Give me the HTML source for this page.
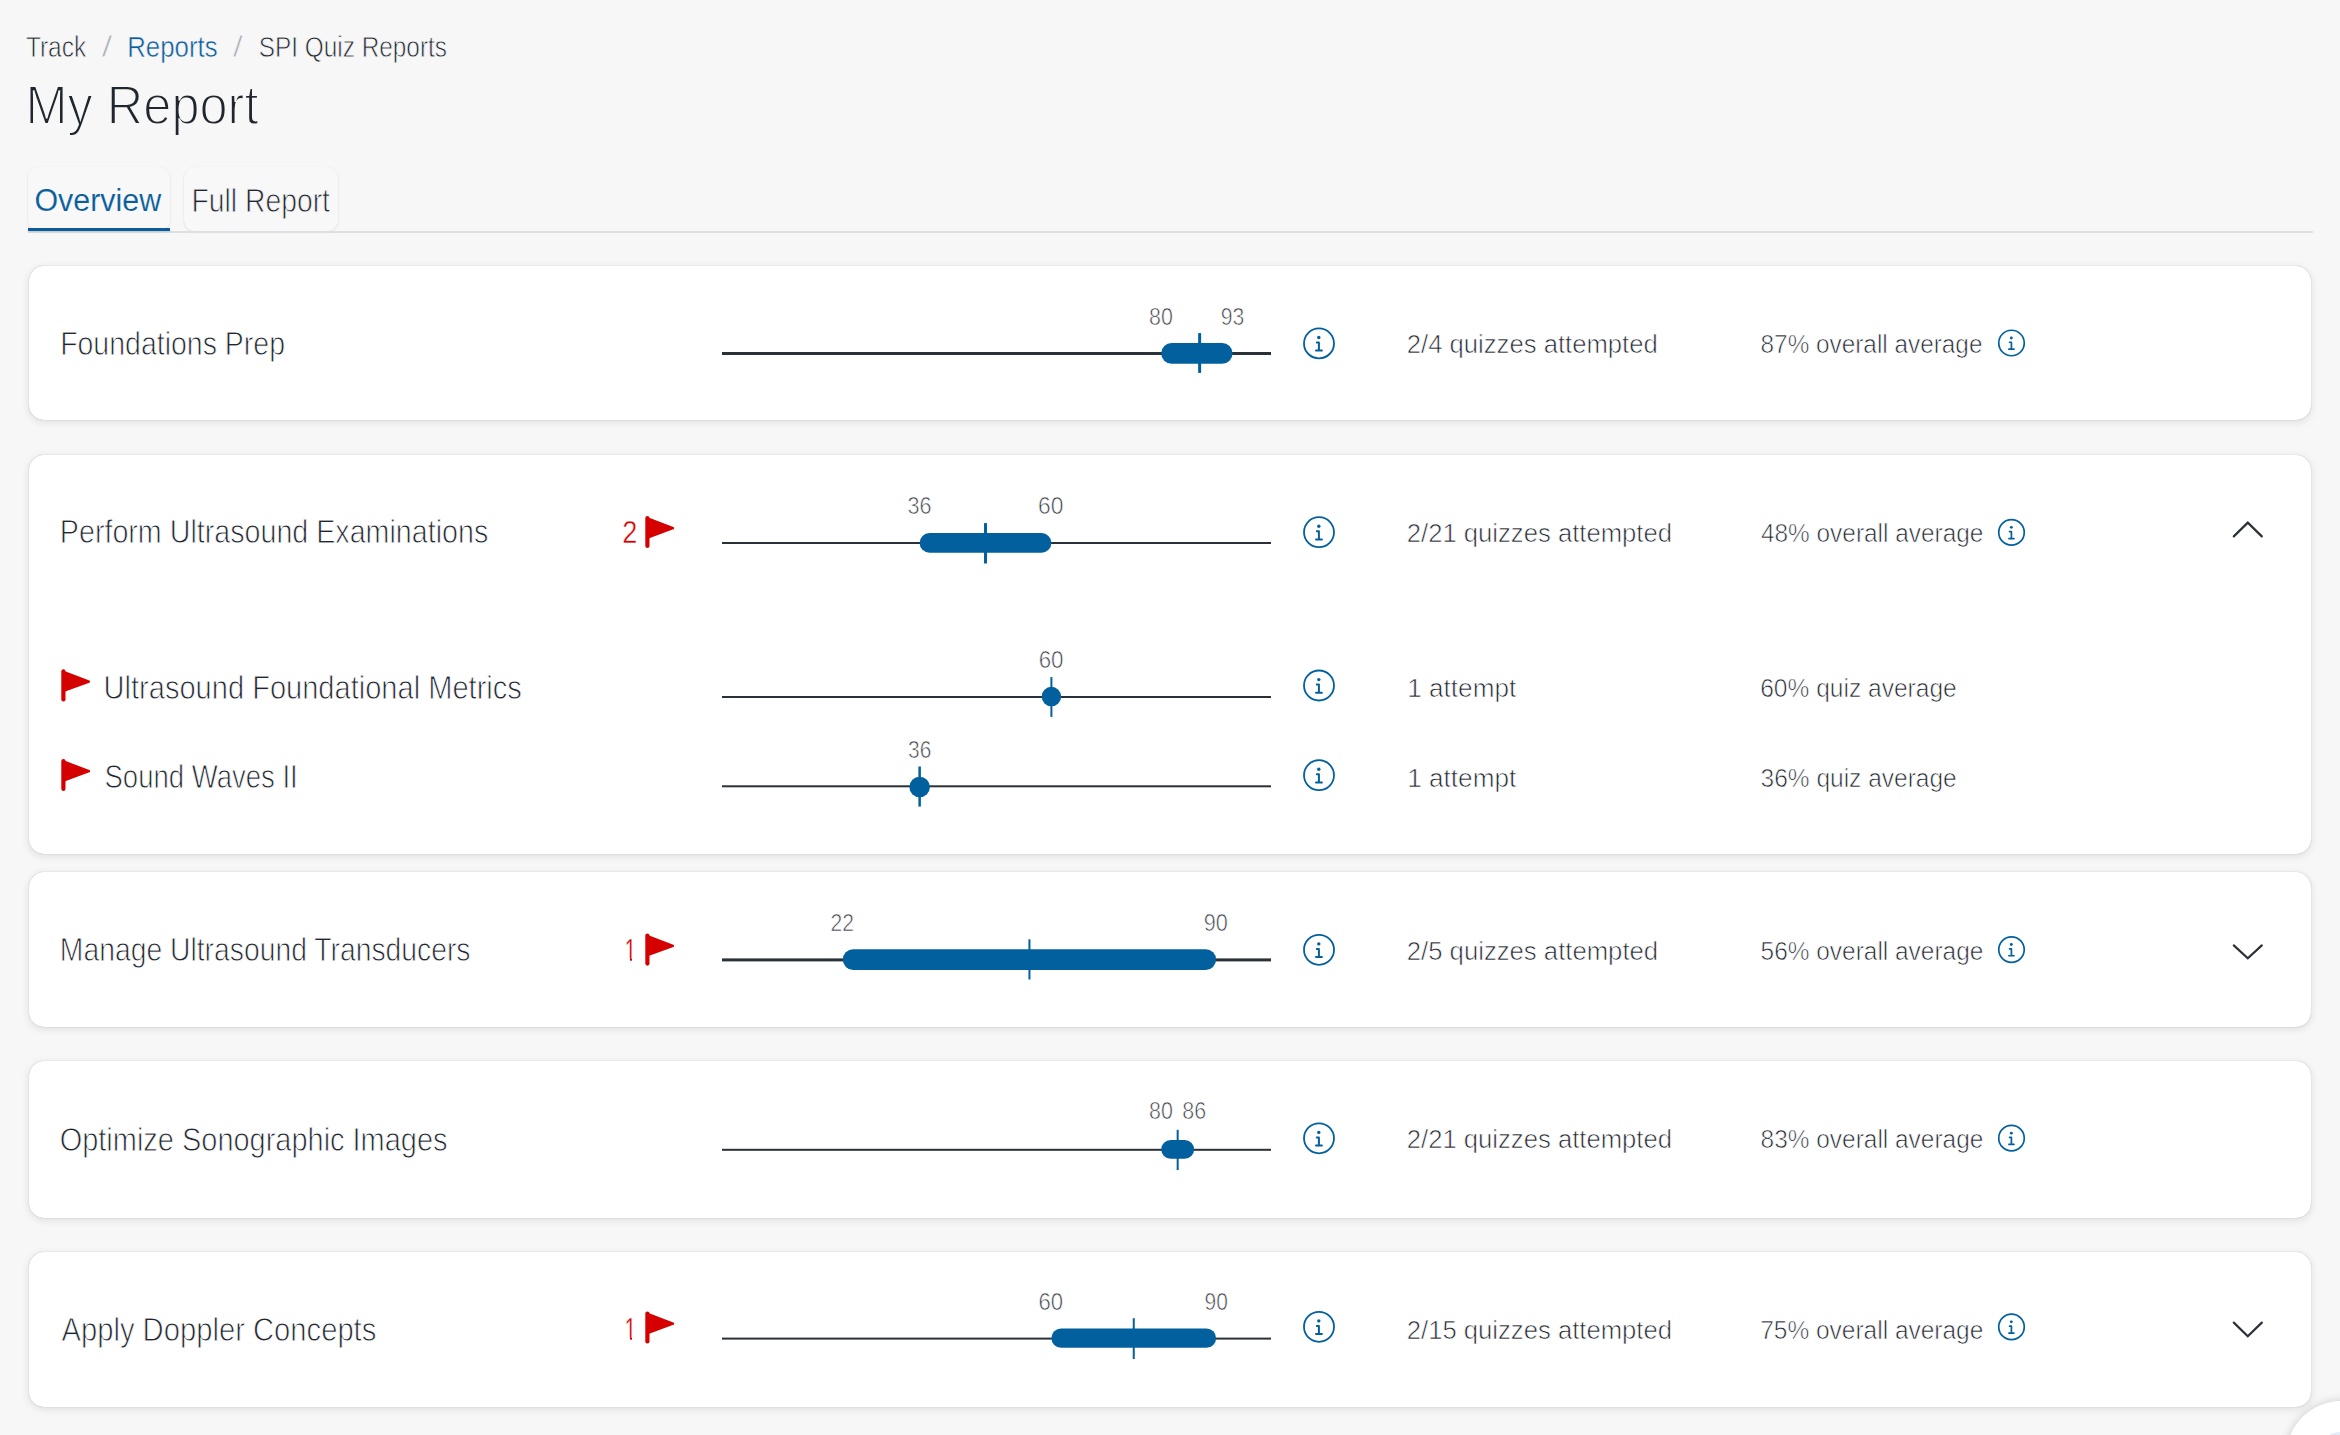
<!DOCTYPE html>
<html><head><meta charset="utf-8"><title>My Report</title>
<style>
html,body{margin:0;padding:0;}
body{width:2340px;height:1435px;overflow:hidden;background:#f7f7f7;position:relative;font-family:"Liberation Sans",Arial,sans-serif;}
.card{position:absolute;left:28.5px;width:2282.5px;background:#fff;border-radius:15px;box-shadow:0 0 1px rgba(0,0,0,.3),0 2px 8px rgba(0,0,0,.11);}
.tab{position:absolute;top:167px;height:64px;border-radius:11px;background:#f8f8f8;box-shadow:0 1px 3px rgba(0,0,0,.09),0 0 1px rgba(0,0,0,.05);}
.tabline{position:absolute;left:28px;top:231.4px;width:2284.6px;height:1.4px;background:#dce0e5;}
.tabactive{position:absolute;left:27.6px;top:228px;width:142.6px;height:3.4px;background:#0a5c9c;box-shadow:0 1px 2px rgba(0,0,0,.12);}
.fab{position:absolute;left:2286px;top:1401px;width:111px;height:111px;border-radius:50%;background:#fff;box-shadow:0 0 10px rgba(0,0,0,.18);}
.fab i{position:absolute;left:31px;top:31px;width:48px;height:48px;border-radius:50%;background:#e2ecf5;}
svg{position:absolute;left:0;top:0;}
svg text{font-family:"Liberation Sans",Arial,sans-serif;}
</style></head><body>
<div class="tab" style="left:27.6px;width:142.6px"></div>
<div class="tab" style="left:183.8px;width:154.7px"></div>
<div class="tabline"></div>
<div class="tabactive"></div>
<div class="card" style="top:266.0px;height:153.8px"></div><div class="card" style="top:455.0px;height:399.2px"></div><div class="card" style="top:872.2px;height:154.6px"></div><div class="card" style="top:1061.0px;height:156.6px"></div><div class="card" style="top:1251.5px;height:155.0px"></div>
<svg width="2340" height="1435" viewBox="0 0 2340 1435">
<rect x="722.0" y="352.00" width="549.0" height="3" fill="#2b3139"/><rect x="1161.20" y="342.90" width="71.37" height="20.80" rx="10.40" fill="#02609e"/><rect x="1198.13" y="333.10" width="3" height="39.80" fill="#02609e"/><rect x="722.0" y="542.00" width="549.0" height="2" fill="#2b3139"/><rect x="919.64" y="533.10" width="131.76" height="19.60" rx="9.80" fill="#02609e"/><rect x="984.02" y="523.10" width="3" height="40.40" fill="#02609e"/><rect x="722.0" y="696.00" width="549.0" height="2" fill="#2b3139"/><circle cx="1051.40" cy="696.60" r="9.75" fill="#02609e"/><rect x="1050.40" y="677.10" width="2" height="39.80" fill="#02609e"/><rect x="722.0" y="785.30" width="549.0" height="2" fill="#2b3139"/><circle cx="919.64" cy="786.90" r="10.25" fill="#02609e"/><rect x="918.39" y="766.50" width="2.5" height="40.10" fill="#02609e"/><rect x="722.0" y="958.40" width="549.0" height="3" fill="#2b3139"/><rect x="842.78" y="949.20" width="373.32" height="20.80" rx="10.40" fill="#02609e"/><rect x="1028.44" y="939.30" width="2" height="40.20" fill="#02609e"/><rect x="722.0" y="1148.80" width="549.0" height="2" fill="#2b3139"/><rect x="1161.20" y="1139.90" width="32.94" height="18.90" rx="9.45" fill="#02609e"/><rect x="1176.67" y="1129.80" width="2" height="40.20" fill="#02609e"/><rect x="722.0" y="1337.60" width="549.0" height="2" fill="#2b3139"/><rect x="1051.40" y="1328.50" width="164.70" height="19.30" rx="9.65" fill="#02609e"/><rect x="1132.75" y="1318.20" width="2" height="40.80" fill="#02609e"/><circle cx="1319.0" cy="343.4" r="15.00" fill="none" stroke="#02609e" stroke-width="1.8"/><circle cx="1318.80" cy="337.50" r="1.70" fill="#02609e"/><path d="M1316.80 342.50 H1318.90 V350.60 M1316.00 350.60 H1321.90" fill="none" stroke="#02609e" stroke-width="2.00" stroke-linecap="round" stroke-linejoin="round"/><circle cx="1319.0" cy="532.2" r="15.00" fill="none" stroke="#02609e" stroke-width="1.8"/><circle cx="1318.80" cy="526.30" r="1.70" fill="#02609e"/><path d="M1316.80 531.30 H1318.90 V539.40 M1316.00 539.40 H1321.90" fill="none" stroke="#02609e" stroke-width="2.00" stroke-linecap="round" stroke-linejoin="round"/><circle cx="1319.0" cy="685.5" r="15.00" fill="none" stroke="#02609e" stroke-width="1.8"/><circle cx="1318.80" cy="679.60" r="1.70" fill="#02609e"/><path d="M1316.80 684.60 H1318.90 V692.70 M1316.00 692.70 H1321.90" fill="none" stroke="#02609e" stroke-width="2.00" stroke-linecap="round" stroke-linejoin="round"/><circle cx="1319.0" cy="775.2" r="15.00" fill="none" stroke="#02609e" stroke-width="1.8"/><circle cx="1318.80" cy="769.30" r="1.70" fill="#02609e"/><path d="M1316.80 774.30 H1318.90 V782.40 M1316.00 782.40 H1321.90" fill="none" stroke="#02609e" stroke-width="2.00" stroke-linecap="round" stroke-linejoin="round"/><circle cx="1319.0" cy="949.8" r="15.00" fill="none" stroke="#02609e" stroke-width="1.8"/><circle cx="1318.80" cy="943.90" r="1.70" fill="#02609e"/><path d="M1316.80 948.90 H1318.90 V957.00 M1316.00 957.00 H1321.90" fill="none" stroke="#02609e" stroke-width="2.00" stroke-linecap="round" stroke-linejoin="round"/><circle cx="1319.0" cy="1138.3" r="15.00" fill="none" stroke="#02609e" stroke-width="1.8"/><circle cx="1318.80" cy="1132.40" r="1.70" fill="#02609e"/><path d="M1316.80 1137.40 H1318.90 V1145.50 M1316.00 1145.50 H1321.90" fill="none" stroke="#02609e" stroke-width="2.00" stroke-linecap="round" stroke-linejoin="round"/><circle cx="1319.0" cy="1326.8" r="15.00" fill="none" stroke="#02609e" stroke-width="1.8"/><circle cx="1318.80" cy="1320.90" r="1.70" fill="#02609e"/><path d="M1316.80 1325.90 H1318.90 V1334.00 M1316.00 1334.00 H1321.90" fill="none" stroke="#02609e" stroke-width="2.00" stroke-linecap="round" stroke-linejoin="round"/><circle cx="2011.5" cy="343.0" r="12.75" fill="none" stroke="#02609e" stroke-width="1.7"/><circle cx="2011.33" cy="337.95" r="1.45" fill="#02609e"/><path d="M2009.62 342.23 H2011.41 V349.16 M2008.93 349.16 H2013.98" fill="none" stroke="#02609e" stroke-width="1.71" stroke-linecap="round" stroke-linejoin="round"/><circle cx="2011.5" cy="532.4" r="12.75" fill="none" stroke="#02609e" stroke-width="1.7"/><circle cx="2011.33" cy="527.35" r="1.45" fill="#02609e"/><path d="M2009.62 531.63 H2011.41 V538.56 M2008.93 538.56 H2013.98" fill="none" stroke="#02609e" stroke-width="1.71" stroke-linecap="round" stroke-linejoin="round"/><circle cx="2011.5" cy="949.6" r="12.75" fill="none" stroke="#02609e" stroke-width="1.7"/><circle cx="2011.33" cy="944.55" r="1.45" fill="#02609e"/><path d="M2009.62 948.83 H2011.41 V955.76 M2008.93 955.76 H2013.98" fill="none" stroke="#02609e" stroke-width="1.71" stroke-linecap="round" stroke-linejoin="round"/><circle cx="2011.5" cy="1138.2" r="12.75" fill="none" stroke="#02609e" stroke-width="1.7"/><circle cx="2011.33" cy="1133.15" r="1.45" fill="#02609e"/><path d="M2009.62 1137.43 H2011.41 V1144.36 M2008.93 1144.36 H2013.98" fill="none" stroke="#02609e" stroke-width="1.71" stroke-linecap="round" stroke-linejoin="round"/><circle cx="2011.5" cy="1326.9" r="12.75" fill="none" stroke="#02609e" stroke-width="1.7"/><circle cx="2011.33" cy="1321.85" r="1.45" fill="#02609e"/><path d="M2009.62 1326.13 H2011.41 V1333.06 M2008.93 1333.06 H2013.98" fill="none" stroke="#02609e" stroke-width="1.71" stroke-linecap="round" stroke-linejoin="round"/><g fill="#d50000" stroke="#d50000" stroke-linejoin="round" stroke-linecap="round"><line x1="647.4" y1="518.0" x2="647.4" y2="546.0" stroke-width="4.2"/><polygon points="647.4,518.5 672.9,528.2 647.4,537.5" stroke-width="2.5"/></g><g fill="#d50000" stroke="#d50000" stroke-linejoin="round" stroke-linecap="round"><line x1="647.4" y1="935.6" x2="647.4" y2="963.6" stroke-width="4.2"/><polygon points="647.4,936.1 672.9,945.8000000000001 647.4,955.1" stroke-width="2.5"/></g><g fill="#d50000" stroke="#d50000" stroke-linejoin="round" stroke-linecap="round"><line x1="647.4" y1="1313.5" x2="647.4" y2="1341.5" stroke-width="4.2"/><polygon points="647.4,1314.0 672.9,1323.7 647.4,1333.0" stroke-width="2.5"/></g><g fill="#d50000" stroke="#d50000" stroke-linejoin="round" stroke-linecap="round"><line x1="63.4" y1="671.4" x2="63.4" y2="699.4" stroke-width="4.2"/><polygon points="63.4,671.9 88.9,681.6 63.4,690.9" stroke-width="2.5"/></g><g fill="#d50000" stroke="#d50000" stroke-linejoin="round" stroke-linecap="round"><line x1="63.4" y1="761.0" x2="63.4" y2="789.0" stroke-width="4.2"/><polygon points="63.4,761.5 88.9,771.2 63.4,780.5" stroke-width="2.5"/></g><polyline points="2233.8,536.4 2247.8,522.6 2261.8,536.4" fill="none" stroke="#2b3139" stroke-width="2.2" stroke-linecap="round" stroke-linejoin="miter"/><polyline points="2233.8,945.4 2247.8,958.2 2261.8,945.4" fill="none" stroke="#2b3139" stroke-width="2.2" stroke-linecap="round" stroke-linejoin="miter"/><polyline points="2233.8,1322.6 2247.8,1336.2 2261.8,1322.6" fill="none" stroke="#2b3139" stroke-width="2.2" stroke-linecap="round" stroke-linejoin="miter"/>
<text x="25.91" y="57.31" font-size="30.31" fill="#20262e" stroke="#f7f7f7" stroke-width="0.81" textLength="60.31" lengthAdjust="spacingAndGlyphs">Track</text><text x="101.49" y="57.31" font-size="30.31" fill="#a9afb7" stroke="#f7f7f7" stroke-width="0.81" textLength="10.88" lengthAdjust="spacingAndGlyphs">/</text><text x="127.22" y="56.86" font-size="29.89" fill="#0b5d9b" stroke="#f7f7f7" stroke-width="0.52" textLength="90.34" lengthAdjust="spacingAndGlyphs">Reports</text><text x="232.69" y="57.31" font-size="30.31" fill="#a9afb7" stroke="#f7f7f7" stroke-width="0.81" textLength="10.19" lengthAdjust="spacingAndGlyphs">/</text><text x="258.83" y="57.01" font-size="30.31" fill="#20262e" stroke="#f7f7f7" stroke-width="0.81" textLength="188.13" lengthAdjust="spacingAndGlyphs">SPI Quiz Reports</text><text x="25.47" y="123.79" font-size="56.29" fill="#20262e" stroke="#f7f7f7" stroke-width="1.78" textLength="232.95" lengthAdjust="spacingAndGlyphs">My Report</text><text x="34.40" y="211.07" font-size="31.21" fill="#0b5d9b" stroke="#f7f7f7" stroke-width="0.15" textLength="126.80" lengthAdjust="spacingAndGlyphs">Overview</text><text x="191.55" y="211.64" font-size="32.53" fill="#20262e" stroke="#f7f7f7" stroke-width="0.87" textLength="138.39" lengthAdjust="spacingAndGlyphs">Full Report</text><text x="60.14" y="355.13" font-size="32.38" fill="#20262e" stroke="#ffffff" stroke-width="0.87" textLength="224.85" lengthAdjust="spacingAndGlyphs">Foundations Prep</text><text x="59.83" y="543.34" font-size="32.53" fill="#20262e" stroke="#ffffff" stroke-width="0.87" textLength="428.41" lengthAdjust="spacingAndGlyphs">Perform Ultrasound Examinations</text><text x="103.55" y="699.04" font-size="32.53" fill="#20262e" stroke="#ffffff" stroke-width="0.87" textLength="418.30" lengthAdjust="spacingAndGlyphs">Ultrasound Foundational Metrics</text><text x="104.50" y="788.24" font-size="32.53" fill="#20262e" stroke="#ffffff" stroke-width="0.87" textLength="193.22" lengthAdjust="spacingAndGlyphs">Sound Waves II</text><text x="59.86" y="961.44" font-size="32.53" fill="#20262e" stroke="#ffffff" stroke-width="0.87" textLength="410.66" lengthAdjust="spacingAndGlyphs">Manage Ultrasound Transducers</text><text x="59.71" y="1150.64" font-size="32.53" fill="#20262e" stroke="#ffffff" stroke-width="0.87" textLength="387.83" lengthAdjust="spacingAndGlyphs">Optimize Sonographic Images</text><text x="61.46" y="1340.64" font-size="32.53" fill="#20262e" stroke="#ffffff" stroke-width="0.87" textLength="314.88" lengthAdjust="spacingAndGlyphs">Apply Doppler Concepts</text><text x="1406.75" y="352.85" font-size="25.88" fill="#20262e" stroke="#ffffff" stroke-width="0.69" textLength="251.04" lengthAdjust="spacingAndGlyphs">2/4 quizzes attempted</text><text x="1760.59" y="353.15" font-size="25.88" fill="#20262e" stroke="#ffffff" stroke-width="0.69" textLength="221.84" lengthAdjust="spacingAndGlyphs">87% overall average</text><text x="1406.75" y="542.25" font-size="25.88" fill="#20262e" stroke="#ffffff" stroke-width="0.69" textLength="265.24" lengthAdjust="spacingAndGlyphs">2/21 quizzes attempted</text><text x="1760.97" y="542.25" font-size="25.88" fill="#20262e" stroke="#ffffff" stroke-width="0.69" textLength="222.36" lengthAdjust="spacingAndGlyphs">48% overall average</text><text x="1407.22" y="697.15" font-size="25.88" fill="#20262e" stroke="#ffffff" stroke-width="0.69" textLength="109.04" lengthAdjust="spacingAndGlyphs">1 attempt</text><text x="1760.20" y="697.15" font-size="25.88" fill="#20262e" stroke="#ffffff" stroke-width="0.69" textLength="196.54" lengthAdjust="spacingAndGlyphs">60% quiz average</text><text x="1407.22" y="787.25" font-size="25.88" fill="#20262e" stroke="#ffffff" stroke-width="0.69" textLength="109.04" lengthAdjust="spacingAndGlyphs">1 attempt</text><text x="1760.59" y="787.25" font-size="25.88" fill="#20262e" stroke="#ffffff" stroke-width="0.69" textLength="196.15" lengthAdjust="spacingAndGlyphs">36% quiz average</text><text x="1406.75" y="959.55" font-size="25.88" fill="#20262e" stroke="#ffffff" stroke-width="0.69" textLength="251.34" lengthAdjust="spacingAndGlyphs">2/5 quizzes attempted</text><text x="1760.59" y="959.55" font-size="25.88" fill="#20262e" stroke="#ffffff" stroke-width="0.69" textLength="222.75" lengthAdjust="spacingAndGlyphs">56% overall average</text><text x="1406.75" y="1148.15" font-size="25.88" fill="#20262e" stroke="#ffffff" stroke-width="0.69" textLength="265.24" lengthAdjust="spacingAndGlyphs">2/21 quizzes attempted</text><text x="1760.59" y="1148.15" font-size="25.88" fill="#20262e" stroke="#ffffff" stroke-width="0.69" textLength="222.75" lengthAdjust="spacingAndGlyphs">83% overall average</text><text x="1406.75" y="1338.95" font-size="25.88" fill="#20262e" stroke="#ffffff" stroke-width="0.69" textLength="265.24" lengthAdjust="spacingAndGlyphs">2/15 quizzes attempted</text><text x="1760.21" y="1338.95" font-size="25.88" fill="#20262e" stroke="#ffffff" stroke-width="0.69" textLength="223.13" lengthAdjust="spacingAndGlyphs">75% overall average</text><text x="622.21" y="543.22" font-size="30.77" fill="#d50000" stroke="#ffffff" stroke-width="0.44" textLength="15.11" lengthAdjust="spacingAndGlyphs">2</text><text x="624.67" y="961.17" font-size="31.07" fill="#d50000" stroke="#ffffff" stroke-width="0.34" textLength="11.22" lengthAdjust="spacingAndGlyphs">1</text><text x="624.67" y="1340.37" font-size="31.07" fill="#d50000" stroke="#ffffff" stroke-width="0.34" textLength="11.22" lengthAdjust="spacingAndGlyphs">1</text><text x="1149.02" y="324.62" font-size="23.51" fill="#3a4047" stroke="#ffffff" stroke-width="0.63" textLength="23.83" lengthAdjust="spacingAndGlyphs">80</text><text x="1220.70" y="324.62" font-size="23.51" fill="#3a4047" stroke="#ffffff" stroke-width="0.63" textLength="23.48" lengthAdjust="spacingAndGlyphs">93</text><text x="907.50" y="513.73" font-size="24.40" fill="#3a4047" stroke="#ffffff" stroke-width="0.65" textLength="24.00" lengthAdjust="spacingAndGlyphs">36</text><text x="1038.10" y="513.73" font-size="24.40" fill="#3a4047" stroke="#ffffff" stroke-width="0.65" textLength="25.39" lengthAdjust="spacingAndGlyphs">60</text><text x="1038.64" y="668.22" font-size="23.51" fill="#3a4047" stroke="#ffffff" stroke-width="0.63" textLength="24.83" lengthAdjust="spacingAndGlyphs">60</text><text x="908.03" y="758.22" font-size="23.51" fill="#3a4047" stroke="#ffffff" stroke-width="0.63" textLength="23.23" lengthAdjust="spacingAndGlyphs">36</text><text x="830.59" y="931.32" font-size="23.66" fill="#3a4047" stroke="#ffffff" stroke-width="0.63" textLength="23.48" lengthAdjust="spacingAndGlyphs">22</text><text x="1203.77" y="931.32" font-size="23.66" fill="#3a4047" stroke="#ffffff" stroke-width="0.63" textLength="24.09" lengthAdjust="spacingAndGlyphs">90</text><text x="1149.02" y="1119.32" font-size="23.51" fill="#3a4047" stroke="#ffffff" stroke-width="0.63" textLength="23.83" lengthAdjust="spacingAndGlyphs">80</text><text x="1182.21" y="1119.32" font-size="23.51" fill="#3a4047" stroke="#ffffff" stroke-width="0.63" textLength="23.87" lengthAdjust="spacingAndGlyphs">86</text><text x="1038.54" y="1310.42" font-size="23.81" fill="#3a4047" stroke="#ffffff" stroke-width="0.64" textLength="24.63" lengthAdjust="spacingAndGlyphs">60</text><text x="1204.60" y="1310.42" font-size="23.81" fill="#3a4047" stroke="#ffffff" stroke-width="0.64" textLength="23.24" lengthAdjust="spacingAndGlyphs">90</text>
<rect x="625" y="958.10" width="5" height="3.6" fill="#fff"/><rect x="632" y="958.10" width="4" height="3.6" fill="#fff"/><rect x="625" y="1337.30" width="5" height="3.6" fill="#fff"/><rect x="632" y="1337.30" width="4" height="3.6" fill="#fff"/>
</svg>
<div class="fab"><i></i></div>
</body></html>
